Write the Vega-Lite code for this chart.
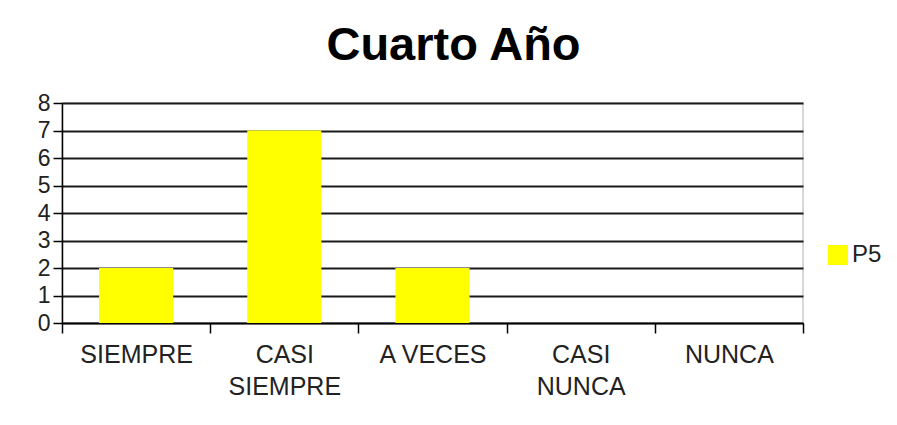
{
  "$schema": "https://vega.github.io/schema/vega-lite/v6.json",
  "width": 741,
  "height": 220,
  "autosize": {"type": "none"},
  "padding": {"left": 62, "top": 103, "right": 94, "bottom": 102},
  "background": "white",
  "title": {
    "text": "Cuarto Año",
    "font": "Liberation Sans",
    "fontSize": 47,
    "fontWeight": "bold",
    "color": "#000000",
    "anchor": "middle",
    "dx": 21,
    "offset": 22
  },
  "data": {
    "values": [
      {"categoria": "SIEMPRE", "valor": 2, "serie": "P5"},
      {"categoria": "CASI SIEMPRE", "valor": 7, "serie": "P5"},
      {"categoria": "A VECES", "valor": 2, "serie": "P5"},
      {"categoria": "CASI NUNCA", "valor": 0, "serie": "P5"},
      {"categoria": "NUNCA", "valor": 0, "serie": "P5"}
    ]
  },
  "mark": {"type": "bar", "width": {"band": 0.5}},
  "encoding": {
    "x": {
      "field": "categoria",
      "type": "nominal",
      "sort": null,
      "scale": {"paddingInner": 0, "paddingOuter": 0},
      "axis": {
        "title": null,
        "labelAngle": 0,
        "tickBand": "extent",
        "tickSize": 10,
        "tickColor": "#000000",
        "tickWidth": 1.5,
        "domainColor": "#000000",
        "domainWidth": 1.5,
        "labelFont": "Liberation Sans",
        "labelFontSize": 25,
        "labelColor": "#222222",
        "labelPadding": 9,
        "labelLineHeight": 32,
        "labelExpr": "indexof(datum.label, 'CASI ') == 0 ? split(datum.label, ' ') : datum.label"
      }
    },
    "y": {
      "field": "valor",
      "type": "quantitative",
      "scale": {"domain": [0, 8], "nice": false},
      "axis": {
        "title": null,
        "values": [0, 1, 2, 3, 4, 5, 6, 7, 8],
        "tickSize": 9,
        "tickColor": "#000000",
        "tickWidth": 1.5,
        "domainColor": "#000000",
        "domainWidth": 1.5,
        "grid": true,
        "gridColor": "#1a1a1a",
        "gridWidth": 2,
        "labelFont": "Liberation Sans",
        "labelFontSize": 23,
        "labelColor": "#222222",
        "labelPadding": 3
      }
    },
    "color": {
      "field": "serie",
      "type": "nominal",
      "scale": {"range": ["#ffff00"]},
      "legend": {
        "title": null,
        "orient": "none",
        "legendX": 764,
        "legendY": 140,
        "symbolType": "square",
        "symbolSize": 400,
        "symbolStrokeWidth": 0,
        "labelFont": "Liberation Sans",
        "labelFontSize": 24,
        "labelColor": "#222222",
        "labelOffset": 2
      }
    }
  },
  "config": {
    "view": {"stroke": "#cccccc", "strokeWidth": 1.5}
  }
}
